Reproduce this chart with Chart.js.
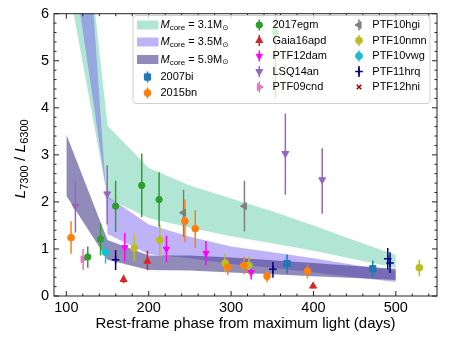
<!DOCTYPE html>
<html>
<head>
<meta charset="utf-8">
<script src="https://cdn.jsdelivr.net/npm/chart.js@4.4.0/dist/chart.umd.min.js"></script>
<style>
html,body{margin:0;padding:0;background:#fff}
</style>
</head>
<body>
<canvas id="myChart" width="450" height="337"></canvas>
<script>
var FONT = "'Liberation Sans', Arial, Helvetica, sans-serif"

var xTicks = [100,200,300,400,500]
var yTicks = [0,1,2,3,4,5,6]

// model bands (upper / lower edge)
var band31X  = [100,150,200,250,300,350,400,450,500]
var band31Hi = [11.6,3.62,2.72,2.35,2.07,1.8,1.5,1.18,0.87]
var band31Lo = [6.85,2.08,1.66,1.45,1.27,1.12,0.96,0.78,0.6]
var band35X  = [100,133,148,150,200,250,300,350,400,450,500]
var band35Hi = [8.0,4.09,2.29,2.12,1.52,1.26,1.05,0.93,0.8,0.66,0.53]
var band35Lo = [12,6.0,2.25,1.32,0.89,0.8,0.68,0.6,0.5,0.4,0.3]
var band59X  = [100,150,200,250,300,350,400,450,500]
var band59Hi = [3.43,1.19,0.86,0.86,0.82,0.76,0.7,0.64,0.58]
var band59Lo = [2.13,0.77,0.55,0.54,0.5,0.46,0.42,0.38,0.34]
var bandLabels = ["3.1","3.5","5.9"]

// observed objects: [phase, ratio, low, high]
var d2007bi   = [[367.9,0.69,0.48,0.88],[472,0.58,0.40,0.75]]
var d2015bn   = [[105.7,1.24,0.90,1.59],[243.9,1.59,1.15,2.05],[256.5,1.43,1.02,1.82],[296,0.61,0.44,0.77],[315.5,0.65,0.46,0.84],[343.7,0.42,0.29,0.53],[392.7,0.53,0.37,0.67]]
var d2017egm  = [[126,0.83,0.60,1.05],[141.5,1.21,0.86,1.54],[159.8,1.91,1.36,2.45],[191.5,2.35,1.68,3.03],[212.6,2.05,1.47,2.63],[354,5.6,4.2,7.0]]
var dGaia16apd= [[169.5,0.35,0.27,0.45],[198.4,0.74,0.55,0.96],[399.6,0.21,0.18,0.24]]
var dPTF12dam = [[171,1.03,0.74,1.34],[221.5,1.0,0.72,1.28],[269.5,0.91,0.66,1.17],[324.4,0.50,0.35,0.63]]
var dLSQ14an  = [[111,1.91,1.35,2.43],[149.6,2.17,1.52,2.78],[365.9,3.03,2.15,3.88],[410.6,2.47,1.75,3.14]]
var dPTF09cnd = [[120.3,0.78,0.55,1.0]]
var dPTF10hgi = [[242.3,1.77,1.26,2.26],[316.2,1.91,1.37,2.45]]
var dPTF10nmn = [[182.5,1.02,0.75,1.31],[213.4,1.19,0.86,1.52],[292.7,0.70,0.51,0.90],[321.6,0.65,0.46,0.84],[528.5,0.60,0.42,0.77]]
var dPTF10vwg = [[147.6,0.93,0.69,1.19]]
var dPTF11hrq = [[159.8,0.77,0.55,0.98],[350.8,0.57,0.39,0.72],[490.2,0.79,0.56,1.02],[493,0.70,0.49,0.93]]
var dPTF12hni = []

var snNames = ["2007bi","2015bn","2017egm","Gaia16apd","PTF12dam","LSQ14an","PTF09cnd","PTF10hgi","PTF10nmn","PTF10vwg","PTF11hrq","PTF12hni"]
var snData = [d2007bi,d2015bn,d2017egm,dGaia16apd,dPTF12dam,dLSQ14an,dPTF09cnd,dPTF10hgi,dPTF10nmn,dPTF10vwg,dPTF11hrq,dPTF12hni]

// styles
var bandColors = ["rgba(102,205,170,0.5)","rgba(123,104,238,0.5)","rgba(72,61,139,0.6)"]
var snColor = ["#1f77b4","#ff7f0e","#2ca02c","#d62728","#ff00ff","#9467bd","#e377c2","#7f7f7f","#bcbd22","#17becf","#000080","#a00000"]
var snMarker = ["rect","circle","circle","triangle","triangle","triangle","triangle","triangle","circle","circle","cross","crossRot"]
var snRot = [0,0,0,0,180,180,90,-90,0,0,0,0]
var snSize = [4.4,3.4,3.2,4,3.6,4,4,4,3.4,3.4,3.8,3.2]

var datasets = []

function addBand(xs, hi, lo, color, ord){
  datasets.push({data: xs.map(function(x,i){return {x:x,y:hi[i]}}), borderColor:'rgba(0,0,0,0)', borderWidth:0, pointRadius:0, fill:false, order:ord, tension:0})
  datasets.push({data: xs.map(function(x,i){return {x:x,y:lo[i]}}), borderColor:'rgba(0,0,0,0)', borderWidth:0, pointRadius:0, fill:'-1', backgroundColor:color, order:ord, tension:0})
}
addBand(band31X, band31Hi, band31Lo, bandColors[0], 30)
addBand(band35X, band35Hi, band35Lo, bandColors[1], 20)
addBand(band59X, band59Hi, band59Lo, bandColors[2], 10)

snData.forEach(function(rows, k){
  var bars = []
  rows.forEach(function(r){
    bars.push({x:r[0],y:r[2]})
    bars.push({x:r[0],y:r[3]})
    bars.push({x:r[0],y:null})
  })
  datasets.push({data:bars, borderColor:snColor[k], borderWidth:1.5, pointRadius:0, spanGaps:false, fill:false, order:2})
  datasets.push({
    data: rows.map(function(r){return {x:r[0],y:r[1]}}),
    showLine:false, fill:false, order:1,
    pointStyle:snMarker[k], pointRotation:snRot[k], pointRadius:snSize[k],
    backgroundColor:snColor[k], borderColor:snColor[k], borderWidth: snMarker[k]=="cross"||snMarker[k]=="crossRot" ? 1.5 : 1
  })
})

function drawRich(c, pieces, x, y, align){
  var total = 0
  pieces.forEach(function(p){ c.font = p.font; total += c.measureText(p.t).width })
  var cx = align === "center" ? x - total/2 : x
  pieces.forEach(function(p){
    c.font = p.font
    c.fillText(p.t, cx, y + (p.dy || 0))
    cx += c.measureText(p.t).width
  })
}

var framePlugin = {
  id: "frameTicks",
  afterDatasetsDraw: function(chart){
    var c = chart.ctx, a = chart.chartArea, xs = chart.scales.x, ys = chart.scales.y
    c.save()
    c.strokeStyle = "#222"
    c.lineWidth = 1
    c.strokeRect(a.left, a.top, a.right - a.left, a.bottom - a.top)
    c.beginPath()
    for (var v = 100; v <= 540; v += 20){
      var px = xs.getPixelForValue(v)
      var len = (v % 100 === 0) ? 5 : 2.5
      c.moveTo(px, a.bottom); c.lineTo(px, a.bottom - len)
      c.moveTo(px, a.top); c.lineTo(px, a.top + len)
    }
    for (var i = 0; i <= 30; i++){
      var py = ys.getPixelForValue(i * 0.2)
      var l2 = (i % 5 === 0) ? 5 : 2.5
      c.moveTo(a.left, py); c.lineTo(a.left + l2, py)
      c.moveTo(a.right, py); c.lineTo(a.right - l2, py)
    }
    c.stroke()

    // legend
    c.fillStyle = "rgba(255,255,255,0.8)"
    c.strokeStyle = "#d0d0d0"
    c.beginPath()
    if (c.roundRect) c.roundRect(133, 15.5, 297, 88, 3); else c.rect(133, 15.5, 297, 88)
    c.fill(); c.stroke()

    c.textBaseline = "middle"
    c.textAlign = "left"
    var rowsA = [25, 42, 59.5, 77, 93]
    var rowsB = [25, 40.5, 56, 71.5, 87]
    bandLabels.forEach(function(lab, i){
      c.fillStyle = bandColors[i]
      c.fillRect(137, rowsA[i] - 4.5, 21.5, 9)
      c.fillStyle = "#000"
      drawRich(c, [
        {t:"M", font:"italic 11px " + FONT},
        {t:"core", font:"8px " + FONT, dy:3},
        {t:" = " + lab + "M", font:"11px " + FONT},
        {t:"\u2299", font:"7.5px 'DejaVu Sans'", dy:3}
      ], 160.5, rowsA[i], "left")
    })
    snNames.forEach(function(name, k){
      var mx, tx, my
      if (k < 2){ mx = 147.5; tx = 160.5; my = rowsA[3 + k] }
      else if (k < 7){ mx = 259.3; tx = 272.5; my = rowsB[k - 2] }
      else { mx = 359; tx = 372.3; my = rowsB[k - 7] }
      c.strokeStyle = snColor[k]
      c.lineWidth = 1.5
      if (k != 11){
        c.beginPath(); c.moveTo(mx, my - 5.5); c.lineTo(mx, my + 5.5); c.stroke()
      }
      c.fillStyle = snColor[k]
      c.lineWidth = (snMarker[k] == "cross" || snMarker[k] == "crossRot") ? 1.5 : 1
      Chart.helpers.drawPoint(c, {pointStyle:snMarker[k], rotation:snRot[k], radius:snSize[k], borderWidth:c.lineWidth}, mx, my)
      c.fillStyle = "#000"
      c.font = "11px " + FONT
      c.fillText(name, tx, my)
    })
    c.restore()
  },
  afterDraw: function(chart){
    var c = chart.ctx, a = chart.chartArea
    c.save()
    c.translate(21, (a.top + a.bottom) / 2 + 4)
    c.rotate(-Math.PI / 2)
    c.fillStyle = "#000"
    c.textBaseline = "middle"
    drawRich(c, [
      {t:"L", font:"italic 15.5px " + FONT},
      {t:"7300", font:"11px " + FONT, dy:4},
      {t:" / ", font:"15.5px " + FONT},
      {t:"L", font:"italic 15.5px " + FONT},
      {t:"6300", font:"11px " + FONT, dy:4}
    ], 0, 0, "center")
    c.restore()
  }
}

var chart = new Chart(document.getElementById("myChart"), {
  type: "line",
  data: { datasets: datasets },
  options: {
    responsive: false,
    animation: false,
    devicePixelRatio: 1,
    events: [],
    layout: { padding: { top: 10, right: 13, left: 0, bottom: 0 } },
    plugins: { legend: { display: false }, tooltip: { enabled: false } },
    scales: {
      x: {
        type: "linear", min: 85, max: 550,
        afterBuildTicks: function(s){ s.ticks = xTicks.map(function(v){ return {value:v} }) },
        afterFit: function(s){ s.height = 41 },
        grid: { display: false, drawTicks: false },
        border: { display: false },
        ticks: { color: "#000", font: { family: FONT, size: 14.5 }, padding: 3, maxRotation: 0 },
        title: { display: true, text: "Rest-frame phase from maximum light (days)", color: "#000", font: { family: FONT, size: 15 }, padding: { top: 0, bottom: 4 } }
      },
      y: {
        type: "linear", min: 0, max: 6,
        afterBuildTicks: function(s){ s.ticks = yTicks.map(function(v){ return {value:v} }) },
        afterFit: function(s){ s.width = 54 },
        grid: { display: false, drawTicks: false },
        border: { display: false },
        ticks: { color: "#000", font: { family: FONT, size: 14.5 }, padding: 5 }
      }
    }
  },
  plugins: [framePlugin]
})
</script>
</body>
</html>
